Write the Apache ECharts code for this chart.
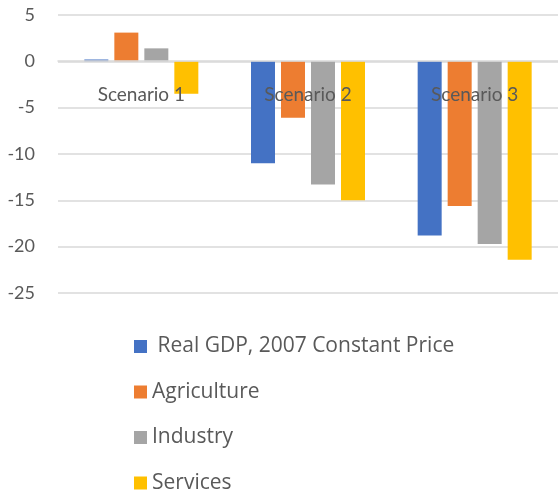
<!DOCTYPE html>
<html>
<head>
<meta charset="utf-8">
<script src="https://cdn.jsdelivr.net/npm/echarts@6/dist/echarts.min.js"></script>
<style>
  html, body { margin: 0; padding: 0; background: #fff; }
  #chart { width: 558px; height: 491px; }
</style>
</head>
<body>
<div id="chart"></div>
<script>
// categories and values
var scenarios = ["Scenario 1", "Scenario 2", "Scenario 3"]
var seriesNames = ["Real GDP, 2007 Constant Price", "Agriculture", "Industry", "Services"]
var gdpData = [0.2, -11.0, -18.8]
var agriData = [3.1, -6.1, -15.6]
var industryData = [1.4, -13.3, -19.7]
var servicesData = [-3.5, -15.0, -21.4]
var yTicks = [5, 0, -5, -10, -15, -20, -25]

var colors = ["#4472C4", "#ED7D31", "#A5A5A5", "#FFC000"]
var allData = [gdpData, agriData, industryData, servicesData]

var seriesList = []
for (var i = 0; i < seriesNames.length; i++) {
	seriesList.push({
		name: seriesNames[i],
		type: 'bar',
		data: allData[i],
		barWidth: 24,
		barGap: '25%',
		itemStyle: { color: colors[i] }
	})
}

var chart = echarts.init(document.getElementById('chart'))
chart.setOption({
	animation: false,
	textStyle: { fontFamily: 'Lato' },
	grid: { left: 58, width: 506, top: 15, bottom: 198 },
	legend: {
		orient: 'vertical',
		left: 134,
		top: 336,
		height: 200,
		padding: 0,
		itemWidth: 13,
		itemHeight: 13,
		itemGap: 24.5,
		icon: 'rect',
		data: seriesNames,
		formatter: function (name) {
			// the first entry has an extra space in the original
			return name === seriesNames[0] ? ' ' + name : name
		},
		textStyle: { color: '#595959', fontSize: 21, lineHeight: 20, fontFamily: 'Open Sans' }
	},
	xAxis: {
		type: 'category',
		data: scenarios,
		z: 10,
		position: 'bottom',
		// axis sits on the zero line: 0 -> -25 is 232px
		offset: -232,
		axisLine: { onZero: false, lineStyle: { color: '#d9d9d9', width: 1.5 } },
		axisTick: { show: false },
		axisLabel: { color: '#595959', fontSize: 19, margin: 24, fontFamily: 'Lato' }
	},
	yAxis: {
		type: 'value',
		min: yTicks[yTicks.length - 1],
		max: yTicks[0],
		interval: 5,
		axisLine: { show: false },
		axisTick: { show: false },
		axisLabel: { color: '#595959', fontSize: 18, margin: 23, fontFamily: 'Lato' },
		splitLine: { lineStyle: { color: '#d9d9d9', width: 1.5 } }
	},
	series: seriesList
})
</script>
</body>
</html>
